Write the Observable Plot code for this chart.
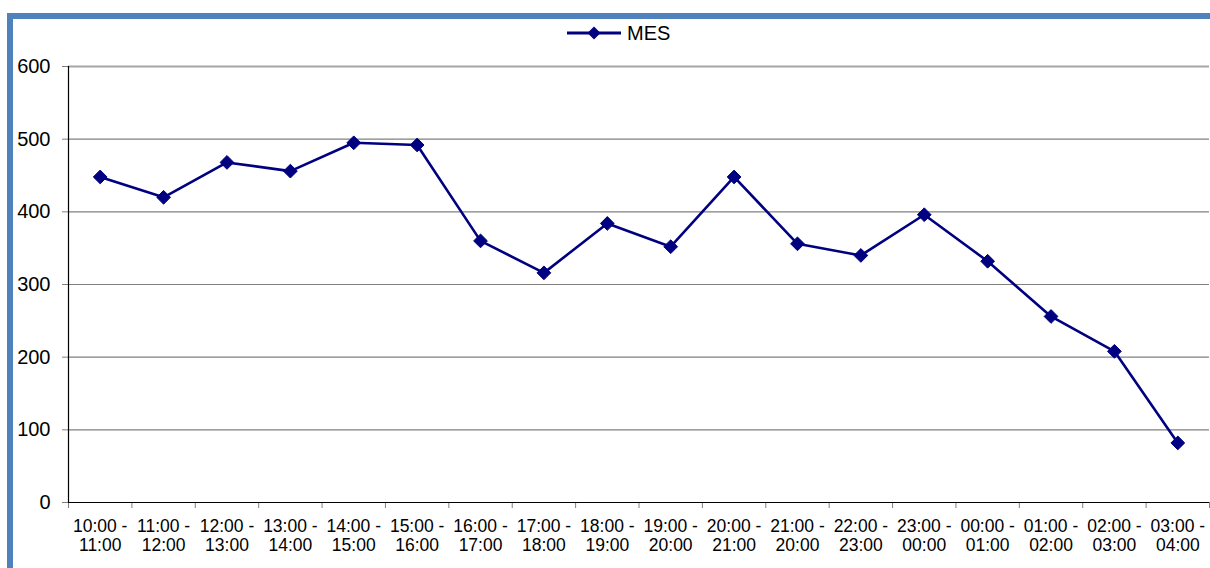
<!DOCTYPE html>
<html>
<head>
<meta charset="utf-8">
<script src="https://cdn.jsdelivr.net/npm/d3@7"></script>
<script src="https://cdn.jsdelivr.net/npm/@observablehq/plot@0.6"></script>
<style>
  html, body { margin: 0; padding: 0; background: #fff; }
  #wrap { position: relative; width: 1210px; height: 568px; overflow: hidden; font-family: "Liberation Sans", Arial, sans-serif; }
  #frame { position: absolute; left: 7px; top: 13px; width: 1400px; height: 800px; border: 6px solid #4F81BD; box-sizing: border-box; }
  #chart { position: absolute; left: 0; top: 0; }
  #legend { position: absolute; left: 566px; top: 20px; height: 26px; display: flex; align-items: center; font-size: 20px; color: #000; }
  #legend span { margin-left: 5px; }
</style>
</head>
<body>
<div id="wrap">
  <div id="frame"></div>
  <div id="chart"></div>
  <div id="legend">
    <svg width="56" height="16"><line x1="1" y1="8" x2="55" y2="8" stroke="#000080" stroke-width="3"/><path d="M28,1.5L34.5,8L28,14.5L21.5,8Z" fill="#000080"/></svg>
    <span>MES</span>
  </div>
</div>
<script>
const seriesName = "MES";
const startLabels = ["10:00","11:00","12:00","13:00","14:00","15:00","16:00","17:00","18:00","19:00","20:00","21:00","22:00","23:00","00:00","01:00","02:00","03:00"];
const endLabels   = ["11:00","12:00","13:00","14:00","15:00","16:00","17:00","18:00","19:00","20:00","21:00","20:00","23:00","00:00","01:00","02:00","03:00","04:00"];
const values      = [448, 420, 468, 456, 495, 492, 360, 316, 384, 352, 448, 356, 340, 396, 332, 256, 208, 82];
const yTicks = [0, 100, 200, 300, 400, 500, 600];

const data = values.map((v, i) => ({pos: i + 0.5, value: v, label: `${startLabels[i]} -\n${endLabels[i]}`}));
const n = values.length;

const chart = Plot.plot({
  width: 1210,
  height: 568,
  marginLeft: 68,
  marginRight: 1,
  marginTop: 66,
  marginBottom: 66,
  style: {fontFamily: "'Liberation Sans', Arial, sans-serif", color: "#000", background: "transparent", overflow: "visible"},
  x: {domain: [0, n], axis: null},
  y: {domain: [0, 600], axis: null},
  marks: [
    Plot.ruleY(yTicks.filter(d => d > 0 && d < 600), {stroke: "#808080", strokeWidth: 1.2}),
    Plot.ruleY([600], {stroke: "#A6A6A6", strokeWidth: 2}),
    Plot.axisY(yTicks, {anchor: "left", label: null, tickSize: 6, tickPadding: 12, stroke: "#808080", fill: "#000", fontSize: 20, tickFormat: d => String(d)}),
    Plot.axisX(d3.range(n + 1), {anchor: "bottom", label: null, tickSize: 6, stroke: "#808080", tickFormat: () => ""}),
    Plot.axisX(data.map(d => d.pos), {anchor: "bottom", label: null, tickSize: 0, tickPadding: 16, fontSize: 17.5, lineHeight: 1.1, fill: "#000", tickFormat: p => data[Math.round(p - 0.5)].label}),
    Plot.ruleX([0], {stroke: "#000", strokeWidth: 1.2}),
    Plot.ruleY([0], {stroke: "#000", strokeWidth: 1.2}),
    Plot.line(data, {x: "pos", y: "value", stroke: "#000080", strokeWidth: 2.6}),
    Plot.dot(data, {x: "pos", y: "value", symbol: "diamond2", r: 6.2, fill: "#000080", stroke: "#000080", strokeWidth: 1})
  ]
});
document.getElementById("chart").appendChild(chart);
</script>
</body>
</html>
